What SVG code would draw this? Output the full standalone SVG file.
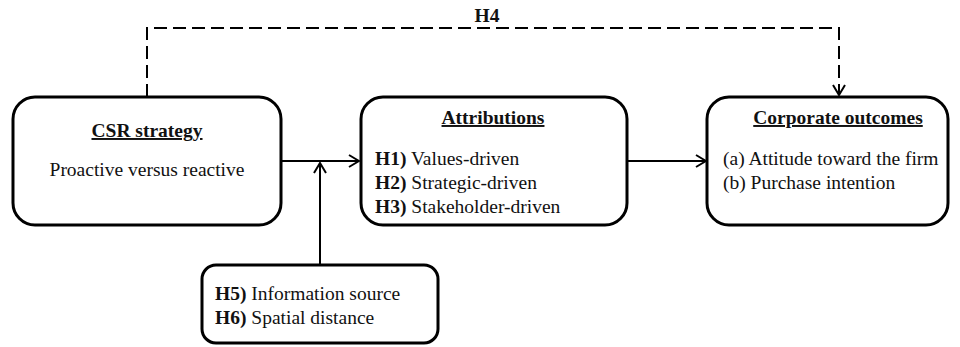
<svg xmlns="http://www.w3.org/2000/svg" width="960" height="347" viewBox="0 0 960 347">
  <defs>
    <style>
      .box { fill: #ffffff; stroke: #000000; stroke-width: 3; }
      .link { fill: none; stroke: #000000; stroke-width: 2; }
      .dash { stroke-dasharray: 13 6; }
      text { font-family: "Liberation Serif", "Times New Roman", serif; font-size: 19.5px; fill: #111111; }
      .title { font-weight: bold; text-decoration: underline; text-anchor: middle; }
      .b { font-weight: bold; }
    </style>
    <marker id="open" viewBox="0 0 12 14" refX="11" refY="7" markerWidth="12" markerHeight="14" markerUnits="userSpaceOnUse" orient="auto">
      <path d="M1,1 L11,7 L1,13" fill="none" stroke="#000000" stroke-width="2"/>
    </marker>
  </defs>

  <rect width="960" height="347" fill="#ffffff"/>

  <!-- connectors -->
  <g id="connectors">
    <path class="link dash" d="M147,97 V28 H839 V95" marker-end="url(#open)"/>
    <text x="487" y="22" class="b" text-anchor="middle">H4</text>
    <path class="link" d="M281,161 H359" marker-end="url(#open)"/>
    <path class="link" d="M320,265 V163" marker-end="url(#open)"/>
    <path class="link" d="M627,161 H706" marker-end="url(#open)"/>
  </g>

  <!-- CSR strategy -->
  <g id="csr-strategy">
    <rect class="box" x="13" y="97" width="268" height="128" rx="22" ry="22"/>
    <text x="147" y="137" class="title">CSR strategy</text>
    <text x="147" y="176" text-anchor="middle">Proactive versus reactive</text>
  </g>

  <!-- Attributions -->
  <g id="attributions">
    <rect class="box" x="361" y="97" width="266" height="128" rx="22" ry="22"/>
    <text x="493" y="124" class="title">Attributions</text>
    <text x="375" y="165"><tspan class="b">H1)</tspan> Values-driven</text>
    <text x="375" y="189"><tspan class="b">H2)</tspan> Strategic-driven</text>
    <text x="375" y="213"><tspan class="b">H3)</tspan> Stakeholder-driven</text>
  </g>

  <!-- Corporate outcomes -->
  <g id="corporate-outcomes">
    <rect class="box" x="707" y="97" width="241" height="128" rx="22" ry="22"/>
    <text x="838" y="124" class="title">Corporate outcomes</text>
    <text x="723" y="165">(a) Attitude toward the firm</text>
    <text x="723" y="189">(b) Purchase intention</text>
  </g>

  <!-- Moderators -->
  <g id="moderators">
    <rect class="box" x="202" y="265" width="236" height="78" rx="14" ry="14"/>
    <text x="215" y="300"><tspan class="b">H5)</tspan> Information source</text>
    <text x="215" y="324"><tspan class="b">H6)</tspan> Spatial distance</text>
  </g>
</svg>
